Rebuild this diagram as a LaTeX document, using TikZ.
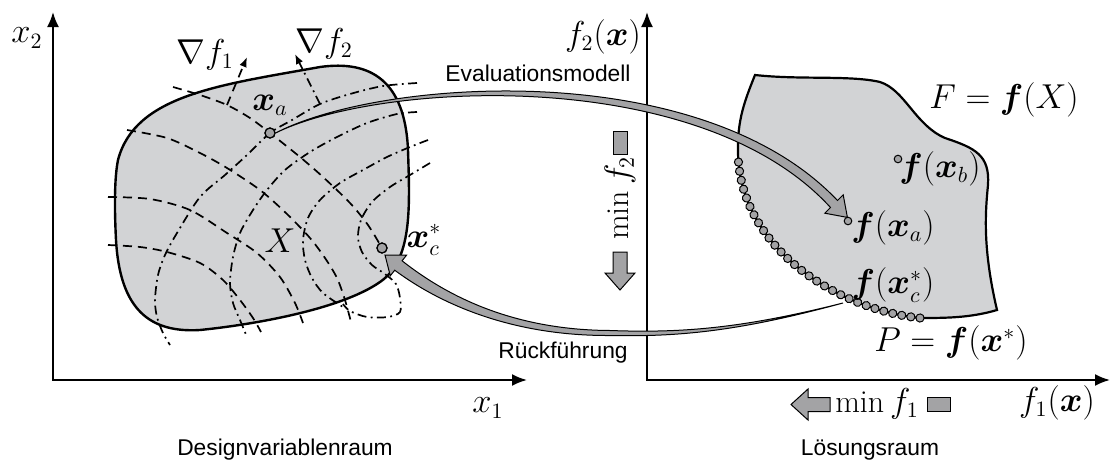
\documentclass[tikz,border=0pt]{standalone}
\usepackage{fontspec}
\setsansfont{Liberation Sans}
\usepackage{bm}
\usetikzlibrary{arrows.meta,decorations.markings}
\definecolor{blobgray}{HTML}{D2D3D5}
\definecolor{arrgray}{HTML}{A3A3A5}
\begin{document}
\begin{tikzpicture}[x=0.5pt,y=-0.5pt,
  axisline/.style={line width=1pt,{Latex[length=7.5pt,width=6pt]}-{Latex[length=7.5pt,width=6pt]}},
  region/.style={fill=blobgray,draw=black,line width=1.2pt},
  contA/.style={line width=0.85pt,dash pattern=on 4.5pt off 3pt},
  contB/.style={line width=0.85pt,dash pattern=on 4.5pt off 2.2pt on 0.9pt off 2.2pt},
  gradtip/.style={-{Latex[length=5pt,width=3.8pt]}},
  mlabel/.style={font=\fontsize{16}{19}\selectfont,inner sep=0pt},
  slabel/.style={font=\sffamily\fontsize{11.4}{13.5}\selectfont,inner sep=0pt},
  bigpt/.style={circle,fill=arrgray,draw=black,line width=0.6pt,minimum size=5pt,inner sep=0pt},
  smallpt/.style={circle,fill=arrgray,draw=black,line width=0.5pt,minimum size=3.8pt,inner sep=0pt},
  fatarrow/.style={fill=arrgray,draw=black,line width=0.5pt,line join=miter},
]
\useasboundingbox (0,0) rectangle (1110,461);

% axes
\coordinate (O1) at (53,380);
\coordinate (X1end) at (527,380);
\coordinate (X2end) at (53,12);
\coordinate (O2) at (647,380);
\coordinate (F1end) at (1110,380);
\coordinate (F2end) at (647,12);
\draw[axisline] (X2end) -- (O1) -- (X1end);
\draw[axisline] (F2end) -- (O2) -- (F1end);

% design region X
\path[region] (118,160) .. controls (135,95) and (220,85) .. (320,67)
  .. controls (370,60) and (405,80) .. (408,150)
  .. controls (410,210) and (412,260) .. (380,282)
  .. controls (340,310) and (250,325) .. (200,330)
  .. controls (150,333) and (120,310) .. (116,240)
  .. controls (114,200) and (115,175) .. (118,160) -- cycle;

% contours of f1 (dashed)
\draw[contA] plot[smooth] coordinates {(173,87) (200,95) (227,105) (250,118) (270,133) (300,157) (323,177) (350,203) (368,225) (382,248)};
\draw[contA] plot[smooth] coordinates {(127,130) (167,138) (200,153) (227,168) (260,190) (287,214) (310,238) (325,258) (337,278) (345,300) (351,322)};
\draw[contA] plot[smooth] coordinates {(108,197) (150,199) (190,210) (227,233) (257,253) (280,277) (295,303) (303,323)};
\draw[contA] plot[smooth] coordinates {(108,245) (140,247) (167,252) (200,263) (223,280) (240,300) (253,318) (261,332)};

% contours of f2 (dash-dotted)
\draw[contB] plot[smooth] coordinates {(417,83) (383,86) (350,94) (320,104) (292,120) (270,133) (247,155) (225,175) (200,197) (177,233) (165,255) (158,275) (155,300) (157,317) (163,333) (170,345)};
\draw[contB] plot[smooth] coordinates {(417,112) (397,114) (367,123) (337,137) (310,152) (285,170) (267,190) (253,210) (240,233) (233,257) (230,283) (233,303) (240,320) (247,337)};
\draw[contB] plot[smooth] coordinates {(428,140) (410,147) (387,157) (363,170) (340,183) (320,200) (308,218) (303,240) (305,260) (312,278) (323,293) (343,307)};
\draw[contB] plot[smooth] coordinates {(430,163) (410,175) (390,187) (372,202) (361,220) (358,237) (362,252) (372,265) (385,274) (396,284) (400,298) (400,312) (388,317) (367,317) (350,311) (343,304)};

% gradients
\coordinate (g1foot) at (227,105);
\coordinate (g1tip) at (247,57);
\coordinate (g2foot) at (320,104);
\coordinate (g2tip) at (295,54);
\draw[contA,gradtip] (g1foot) -- (g1tip);
\draw[contB,gradtip] (g2foot) -- (g2tip);

% objective region F
\path[region,line width=1.1pt] (755,75) .. controls (800,80) and (850,75) .. (880,82)
  .. controls (905,90) and (915,125) .. (945,138)
  .. controls (975,148) and (990,155) .. (988,185)
  .. controls (985,215) and (983,250) .. (997,310)
  .. controls (970,318) and (945,318) .. (920,318)
  .. controls (840,310) and (740,250) .. (738,153)
  .. controls (737,120) and (745,100) .. (755,75) -- cycle;
\path[postaction={decorate},decoration={markings,
  mark=between positions 0 and 1 step 0.03448 with {\fill[arrgray,draw=black,line width=0.5pt] (0,0) circle (2.05pt);}}]
  (920,318) .. controls (840,310) and (740,250) .. (738,153);

% points
\node[bigpt] (xa) at (270,133) {};
\node[bigpt] (xc) at (382,248) {};
\node[smallpt] (fxa) at (848,221) {};
\node[smallpt] (fxb) at (898,159) {};
\coordinate (fxcpt) at (843,303);
\coordinate (xctip) at (385,255);

% Evaluationsmodell arrow
\draw[fatarrow] (xa.east) .. controls (380,78.5) and (700,55.5) .. (837.5,200.5)
  -- (843.2,194.8) -- (847.4,217.4) -- (824.8,213.2) -- (830.5,207.5)
  .. controls (700,64.5) and (380,81.5) .. (xa.east) -- cycle;

% Rueckfuehrung arrow
\draw[fatarrow] (fxcpt) .. controls (740,329) and (680,333) .. (610,330.5)
  .. controls (520,330) and (453,301) .. (402.1,260.8)
  -- (406.5,255.2) -- (xctip) -- (390.3,275.8) -- (394.7,270.2)
  .. controls (447,309) and (520,336) .. (610,335.5)
  .. controls (680,337) and (740,331) .. (fxcpt) -- cycle;

\node[bigpt] at (xa) {};
\node[bigpt] at (xc) {};

% min f2 / min f1 block arrows
\draw[fatarrow] (613,131) rectangle (627,154);
\draw[fatarrow] (613,252) -- (627,252) -- (627,273) -- (635,273) -- (620,290) -- (605,273) -- (613,273) -- cycle;
\draw[fatarrow] (830,397.5) -- (830,411.5) -- (808,411.5) -- (808,420) -- (791,404.5) -- (808,389) -- (808,397.5) -- cycle;
\draw[fatarrow] (927,397.5) rectangle (950,411.5);

% labels
\node[mlabel] (lx2) at (27,38) {$x_2$};
\node[mlabel] (lg1) at (205,55) {$\nabla f_1$};
\node[mlabel] (lg2) at (324,44) {$\nabla f_2$};
\node[mlabel] (lxa) at (270,105) {$\bm{x}_a$};
\node[mlabel] (lX) at (280,241) {$X$};
\node[mlabel] (lxc) at (424,240) {$\bm{x}_c^*$};
\node[mlabel] (lx1) at (488,408) {$x_1$};
\node[slabel] (ldes) at (285,450) {Designvariablenraum};
\node[slabel] (leval) at (538,73) {Evaluationsmodell};
\node[slabel] (lrueck) at (563,353) {Rückführung};
\node[mlabel] (lf2) at (603,37) {$f_2(\bm{x})$};
\node[mlabel,rotate=90] (lminf2) at (620,198) {$\min f_2$};
\node[mlabel] (lF) at (1004,100) {$F = \bm{f}(X)$};
\node[mlabel] (lfxb) at (940,169) {$\bm{f}(\bm{x}_b)$};
\node[mlabel] (lfxa) at (893,228) {$\bm{f}(\bm{x}_a)$};
\node[mlabel] (lfxc) at (893,285) {$\bm{f}(\bm{x}_c^*)$};
\node[mlabel] (lP) at (951,343) {$P = \bm{f}(\bm{x}^*)$};
\node[mlabel] (lminf1) at (877,404) {$\min f_1$};
\node[mlabel] (lf1) at (1057,403) {$f_1(\bm{x})$};
\node[slabel] (lloes) at (870,450) {Lösungsraum};
\end{tikzpicture}
\end{document}
